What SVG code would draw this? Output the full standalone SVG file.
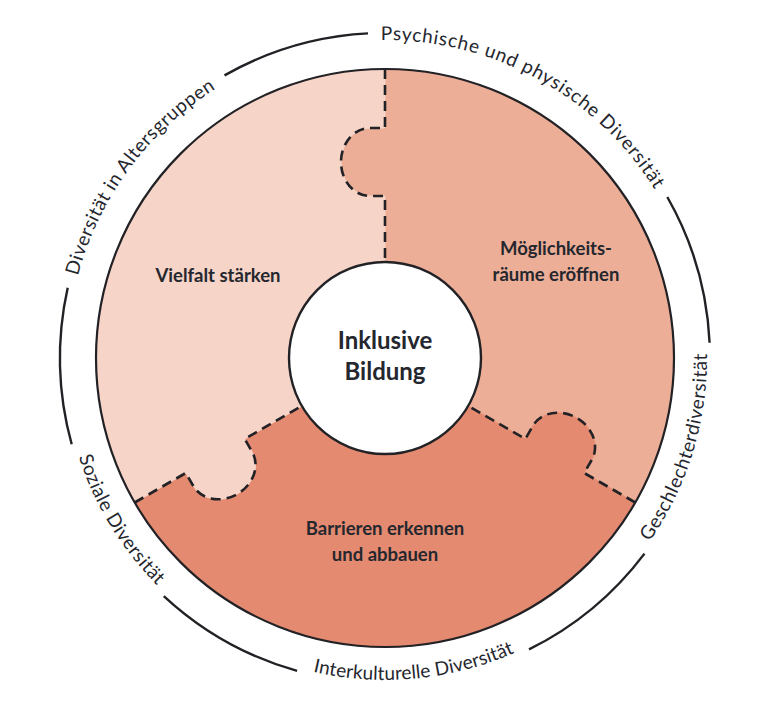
<svg xmlns="http://www.w3.org/2000/svg" xmlns:xlink="http://www.w3.org/1999/xlink" width="768" height="725" viewBox="0 0 768 725">
  <style>
    .light { fill: #F6D4C7; stroke: #F6D4C7; stroke-width: 0.8; }
    .mid { fill: #EDAE97; stroke: #EDAE97; stroke-width: 0.8; }
    .dark { fill: #E48A70; stroke: #E48A70; stroke-width: 0.8; }
    .outline { fill: none; stroke: #222226; stroke-width: 2.2; }
    .dash { fill: none; stroke: #222226; stroke-width: 2.6; stroke-dasharray: 10 6; }
    .ring { fill: none; stroke: #222226; stroke-width: 2.4; stroke-linecap: butt; }
    .ringtext { font-family: "Lato", "Liberation Sans", sans-serif; font-weight: 400; font-size: 19px; fill: #25272E; }
    .label { font-family: "Lato", "Liberation Sans", sans-serif; font-weight: 700; font-size: 18.5px; fill: #25272E; text-anchor: middle; }
    .center { font-family: "Lato", "Liberation Sans", sans-serif; font-weight: 700; font-size: 24px; fill: #25272E; text-anchor: middle; }
  </style>
  <defs>
    <path id="tp-psych" d="M 136.5 159.6 A 318 318 0 0 1 686.4 459.4"/>
    <path id="tp-alter" d="M 154.7 577.3 A 318 318 0 0 1 526.4 73.2"/>
    <path id="tp-geschl" d="M 345.7 677.6 A 322 322 0 0 0 531.2 71.1"/>
    <path id="tp-inter" d="M 74.6 443.5 A 322 322 0 0 0 706.0 383.8"/>
    <path id="tp-sozial" d="M 172.1 116.5 A 322 322 0 0 0 502.5 657.8"/>
    <path id="piece" d="M 385 358 L 385 196 L 370 196 A 29 34 0 0 1 370 128 L 385 128 L 385 69 A 289 289 0 0 1 635.28 502.5 L 584.19 473 L 591.69 460.01 A 29 34 120 0 0 532.80 426.01 L 525.30 439 Z"/>
    <path id="divider" d="M 385 69 L 385 128 L 370 128 A 29 34 0 0 0 370 196 L 385 196 L 385 262"/>
  </defs>

  <rect x="0" y="0" width="768" height="725" fill="#FFFFFF"/>

  <g id="piece-moeglichkeitsraeume">
    <use href="#piece" xlink:href="#piece" class="mid"/>
  </g>

  <g id="piece-barrieren">
    <use href="#piece" xlink:href="#piece" class="dark" transform="rotate(120 385 358)"/>
  </g>

  <g id="piece-vielfalt">
    <use href="#piece" xlink:href="#piece" class="light" transform="rotate(240 385 358)"/>
  </g>

  <g id="connectors">
    <use href="#divider" xlink:href="#divider" class="dash"/>
    <use href="#divider" xlink:href="#divider" class="dash" transform="rotate(120 385 358)"/>
    <use href="#divider" xlink:href="#divider" class="dash" transform="rotate(240 385 358)"/>
    <circle class="outline" cx="385" cy="358" r="289"/>
  </g>

  <g id="labels-pieces">
    <text class="label" x="218" y="282">Vielfalt stärken</text>
    <text class="label" x="556" y="255">Möglichkeits-</text>
    <text class="label" x="556" y="281">räume eröffnen</text>
    <text class="label" x="385" y="535">Barrieren erkennen</text>
    <text class="label" x="385" y="561">und abbauen</text>
  </g>

  <g id="center-node">
    <circle cx="385" cy="358" r="96" fill="#FFFFFF" stroke="#222226" stroke-width="2.4"/>
    <text class="center" x="385" y="349">Inklusive</text>
    <text class="center" x="385" y="380">Bildung</text>
  </g>

  <g id="outer-ring">
    <path class="ring" d="M 667.3 197.0 A 325 325 0 0 1 709.6 342.7"/>
    <path class="ring" d="M 644.5 553.6 A 325 325 0 0 1 529.0 649.4"/>
    <path class="ring" d="M 297.1 670.9 A 325 325 0 0 1 163.8 596.1"/>
    <path class="ring" d="M 71.7 444.3 A 325 325 0 0 1 67.7 287.7"/>
    <path class="ring" d="M 224.5 75.4 A 325 325 0 0 1 368.0 33.4"/>
  </g>

  <g id="label-psychisch">
    <text class="ringtext"><textPath href="#tp-psych" xlink:href="#tp-psych" startOffset="50%" text-anchor="middle" textLength="326" lengthAdjust="spacing">Psychische und physische Diversität</textPath></text>
  </g>
  <g id="label-geschlecht">
    <text class="ringtext"><textPath href="#tp-geschl" xlink:href="#tp-geschl" startOffset="50%" text-anchor="middle" textLength="200" lengthAdjust="spacing">Geschlechterdiversität</textPath></text>
  </g>
  <g id="label-interkulturell">
    <text class="ringtext"><textPath href="#tp-inter" xlink:href="#tp-inter" startOffset="50%" text-anchor="middle" textLength="206" lengthAdjust="spacing">Interkulturelle Diversität</textPath></text>
  </g>
  <g id="label-sozial">
    <text class="ringtext"><textPath href="#tp-sozial" xlink:href="#tp-sozial" startOffset="50%" text-anchor="middle" textLength="152" lengthAdjust="spacing">Soziale Diversität</textPath></text>
  </g>
  <g id="label-alter">
    <text class="ringtext"><textPath href="#tp-alter" xlink:href="#tp-alter" startOffset="50%" text-anchor="middle" textLength="238" lengthAdjust="spacing">Diversität in Altersgruppen</textPath></text>
  </g>
</svg>
